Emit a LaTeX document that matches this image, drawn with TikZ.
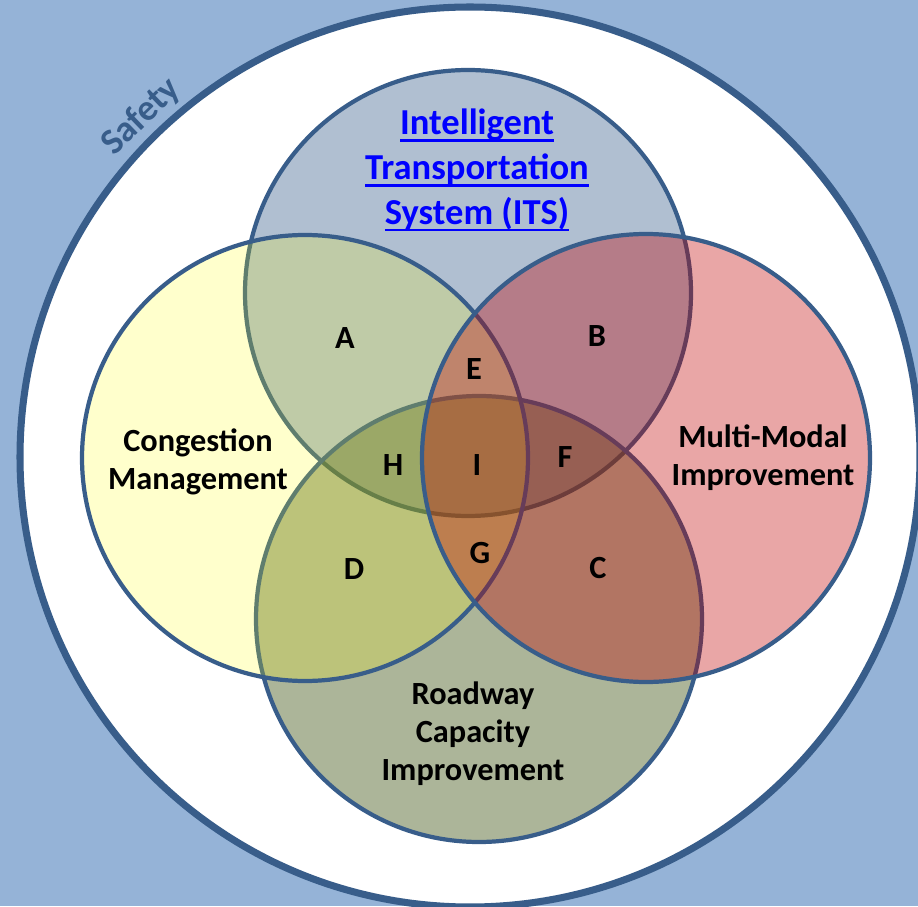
\documentclass[tikz,border=0pt]{standalone}
\usepackage{fontspec}
\setmainfont{Carlito}
\usepackage{xcolor}

\definecolor{fundo}{RGB}{149,179,215}
\definecolor{contorno}{RGB}{56,93,138}
\definecolor{itsazul}{RGB}{31,73,125}
\definecolor{viaverde}{RGB}{79,98,40}
\definecolor{congamarelo}{RGB}{255,255,0}
\definecolor{multivermelho}{RGB}{192,0,0}
\definecolor{linkazul}{RGB}{0,0,255}

% sublinhado simples (cor do texto)
\newcommand{\sublinha}[1]{\setbox0\hbox{#1}\rlap{\rule[-2.1pt]{\wd0}{0.6pt}}\box0}

\tikzset{
  conjunto/.style={draw=contorno, line width=1.2pt},
  rotulo/.style={font=\bfseries\fontsize{9.2}{10.8}\selectfont, align=center, text=black},
  regiao/.style={font=\bfseries\fontsize{9.2}{10.8}\selectfont, text=black},
}

\begin{document}
\begin{tikzpicture}[scale=1.0]
    \useasboundingbox (0,0) rectangle (9.18,9.06);
    \clip (0,0) rectangle (9.18,9.06);
    % Plano de fundo
    \fill[fundo] (0,0) rectangle (9.18,9.06);
    % Circulo externo (seguranca)
    \coordinate (centro) at (4.70,4.49);
    \draw[contorno, fill=white, line width=2pt] (centro) circle (4.50);
    \node[rotate=44, text=contorno, font=\bfseries\fontsize{10.4}{12.8}\selectfont]
      (seguranca) at ([shift={(134:4.73)}]centro) {Safety};
    % Conjuntos (ordem importa para as transparencias)
    \path[conjunto, fill=itsazul, fill opacity=0.35] (4.68,6.13) circle (2.23);
    \path[conjunto, fill=viaverde, fill opacity=0.47] (4.79,2.87) circle (2.23);
    \path[conjunto, fill=congamarelo, fill opacity=0.2] (3.05,4.48) circle (2.23);
    \path[conjunto, fill=multivermelho, fill opacity=0.35] (6.46,4.48) circle (2.24);
    % Nomes dos conjuntos
    \node[align=center, text=linkazul, font=\bfseries\fontsize{10.4}{12.8}\selectfont]
      (its) at (4.77,7.36) {\sublinha{Intelligent}\\\sublinha{Transportation}\\\sublinha{System (ITS)}};
    \node[rotulo] (congestao) at (1.98,4.44) {Congestion\\Management};
    \node[rotulo] (multimodal) at (7.63,4.48) {Multi-Modal\\Improvement};
    \node[rotulo] (rodovia) at (4.73,1.72) {Roadway\\Capacity\\Improvement};
    % Intersecoes
    \foreach \nome/\x/\y in {A/3.45/5.68, B/5.97/5.70, C/5.98/3.38, D/3.54/3.37,
                             E/4.74/5.37, F/5.65/4.49, G/4.80/3.53, H/3.93/4.41, I/4.77/4.41}
      \node[regiao] (reg\nome) at (\x,\y) {\nome};
\end{tikzpicture}
\end{document}
